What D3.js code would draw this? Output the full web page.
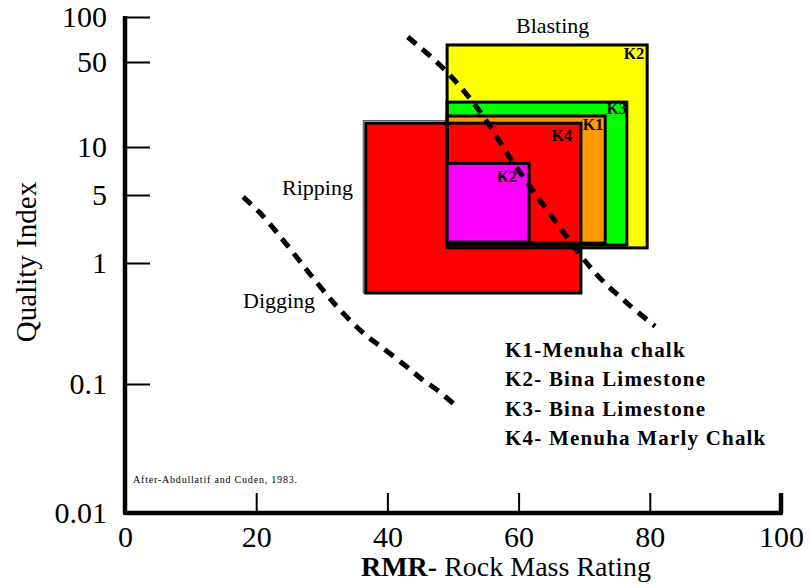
<!DOCTYPE html>
<html>
<head>
<meta charset="utf-8">
<script src="https://cdn.jsdelivr.net/npm/d3@7"></script>
<style>
  html, body { margin: 0; padding: 0; background: #fff; }
  svg { display: block; }
  svg text { font-family: "Liberation Serif", "Times New Roman", serif; }
</style>
</head>
<body>
<svg id="chart" width="811" height="588"></svg>
<script>
// Axis ticks
const rmrTicks = [0, 20, 40, 60, 80, 100];
const qTicks = [100, 50, 10, 5, 1, 0.1, 0.01];
const qTickLabels = ["100", "50", "10", "5", "1", "0.1", "0.01"];

// Rock units (drawn back to front)
const boxNames   = ["K2", "K3", "K1", "K4", "K2"];
const boxRmrMin  = [49.1, 49.1, 49.1, 36.7, 49.1];
const boxRmrMax  = [79.6, 76.5, 73.2, 69.5, 61.6];
const boxQMax    = [65, 23.4, 18, 15.7, 7.9];
const boxQMin    = [1.43, 1.53, 1.6, 0.565, 1.64];
const boxColors  = ["#ffff00", "#00ff00", "#ff9900", "#ff0000", "#ff00ff"];

// Excavation boundaries
const blastRmr = [43.1, 48.0, 51.8, 55.2, 58.4, 61.3, 64.0, 66.8, 69.4, 72.4, 76.7, 80.8];
const blastQ   = [73.5, 47.2, 28.3, 16.1, 8.9, 6.0, 3.77, 2.08, 1.21, 0.75, 0.458, 0.30];
const digRmr   = [18.0, 20.6, 24.1, 27.7, 30.8, 32.8, 36.3, 39.3, 43.0, 45.4, 47.6, 50.3];
const digQ     = [4.77, 3.26, 1.72, 0.875, 0.544, 0.409, 0.264, 0.198, 0.138, 0.108, 0.0898, 0.0687];

// Legend
const legendLines = ["K1-Menuha chalk", "K2- Bina Limestone", "K3- Bina Limestone", "K4- Menuha Marly Chalk"];

const SERIF = "Liberation Serif";
const svg = d3.select("#chart");

const x = d3.scaleLinear().domain([0, 100]).range([125, 781]);
// hand-drawn log axis: piecewise log mapping through the labelled ticks
const y = d3.scaleLog().domain(qTicks).range([17, 62, 147, 195, 263, 384, 513]);

// ---- boxes ----
const boxes = boxNames.map((n, i) => ({
  name: n, x0: boxRmrMin[i], x1: boxRmrMax[i], q1: boxQMax[i], q0: boxQMin[i], color: boxColors[i]
}));
const rectAttrs = sel => sel
  .attr("x", d => x(d.x0))
  .attr("y", d => y(d.q1))
  .attr("width", d => x(d.x1) - x(d.x0))
  .attr("height", d => y(d.q0) - y(d.q1));

const back = boxes.slice(0, 4);
const front = boxes.slice(4);

// faint outer rule on the K4 box
svg.append("rect")
  .datum(boxes[3])
  .attr("x", d => x(d.x0) - 2.5)
  .attr("y", d => y(d.q1) - 2.5)
  .attr("width", d => x(d.x1) - x(d.x0) + 2.5)
  .attr("height", d => y(d.q0) - y(d.q1) + 2.5)
  .attr("fill", "none").attr("stroke", "#444").attr("stroke-width", 1);

svg.append("g").selectAll("rect").data(back).join("rect")
  .call(rectAttrs).attr("fill", d => d.color).attr("stroke", "none");
svg.append("g").selectAll("rect").data(back).join("rect")
  .call(rectAttrs).attr("fill", "none").attr("stroke", "#000").attr("stroke-width", 3);
svg.append("g").selectAll("rect").data(front).join("rect")
  .call(rectAttrs).attr("fill", d => d.color).attr("stroke", "#000").attr("stroke-width", 3);

// ---- boundary curves ----
const line = d3.line().x(d => x(d[0])).y(d => y(d[1])).curve(d3.curveCatmullRom);
[[blastRmr, blastQ], [digRmr, digQ]].forEach(([xs, qs]) => {
  svg.append("path")
    .attr("d", line(xs.map((v, i) => [v, qs[i]])))
    .attr("fill", "none").attr("stroke", "#000")
    .attr("stroke-width", 5).attr("stroke-dasharray", "11 8");
});

// ---- box labels (anchored at each box's top-right corner) ----
const labelPos = [
  {i: 0, dx: -3, dy: 14},
  {i: 1, dx: 0, dy: 12},
  {i: 2, dx: -2, dy: 14},
  {i: 3, dx: -9, dy: 18},
  {i: 4, dx: -12, dy: 19}
];
svg.append("g").selectAll("text").data(labelPos).join("text")
  .attr("x", d => x(boxes[d.i].x1) + d.dx)
  .attr("y", d => y(boxes[d.i].q1) + d.dy)
  .attr("text-anchor", "end")
  .attr("font-family", SERIF)
  .attr("font-size", 16).attr("font-weight", "bold")
  .text(d => boxes[d.i].name);

// ---- axes ----
const yAxis = d3.axisLeft(y).tickValues(qTicks)
  .tickFormat((d, i) => qTickLabels[i]).tickSize(-25).tickPadding(18);
const gy = svg.append("g").attr("transform", `translate(${x(0)},0)`).call(yAxis);
gy.attr("font-family", SERIF);
gy.select(".domain").remove();
gy.selectAll(".tick line").attr("stroke", "#000").attr("stroke-width", 2);
gy.selectAll(".tick text").attr("font-size", 30).attr("font-family", SERIF).attr("fill", "#000");

const xAxis = d3.axisBottom(x).tickValues(rmrTicks).tickSize(-20).tickPadding(13);
const gx = svg.append("g").attr("transform", `translate(0,${y(0.01)})`).call(xAxis);
gx.attr("font-family", SERIF);
gx.select(".domain").remove();
gx.selectAll(".tick line").attr("stroke", "#000").attr("stroke-width", 2);
gx.selectAll(".tick text").attr("font-size", 30).attr("font-family", SERIF).attr("fill", "#000");

svg.append("path")
  .attr("d", `M${x(0)},${y(100) - 1}V${y(0.01)}H${x(100)}V${y(0.01) - 20}`)
  .attr("fill", "none").attr("stroke", "#000").attr("stroke-width", 4.5)
  .attr("stroke-linejoin", "round");

// ---- titles ----
svg.append("text")
  .attr("transform", "translate(36,262) rotate(-90)")
  .attr("text-anchor", "middle").attr("font-size", 29)
  .attr("font-family", SERIF)
  .text("Quality Index");

const xt = svg.append("text").attr("x", 506).attr("y", 576)
  .attr("text-anchor", "middle").attr("font-size", 28)
  .attr("font-family", SERIF);
xt.append("tspan").attr("font-weight", "bold").text("RMR-");
xt.append("tspan").text(" Rock Mass Rating");

// zone names
const zones = [["Blasting", 516, 33], ["Ripping", 282, 195], ["Digging", 243, 308]];
svg.append("g").selectAll("text").data(zones).join("text")
  .attr("x", d => d[1]).attr("y", d => d[2])
  .attr("font-family", SERIF)
  .attr("font-size", 22).text(d => d[0]);

// legend
svg.append("g").selectAll("text").data(legendLines).join("text")
  .attr("x", 505).attr("y", (d, i) => 357 + i * 29.3)
  .attr("font-family", SERIF)
  .attr("font-size", 21).attr("font-weight", "bold").attr("letter-spacing", 1.2)
  .text(d => d);

// source note
svg.append("text").attr("x", 133).attr("y", 483)
  .attr("font-family", SERIF)
  .attr("font-size", 10).attr("letter-spacing", 0.8)
  .text("After-Abdullatif and Cuden, 1983.");
</script>
</body>
</html>
